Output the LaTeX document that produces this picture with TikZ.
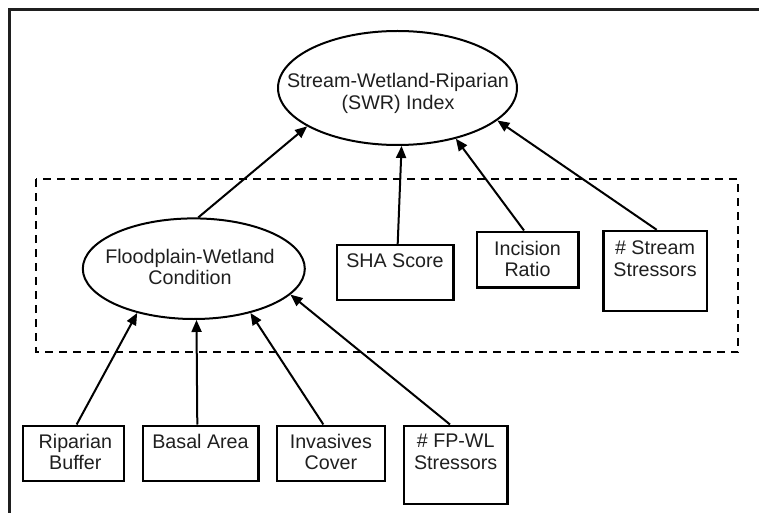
\documentclass[tikz,border=0pt]{standalone}
\usepackage{fontspec}
\setmainfont{Liberation Sans}
\usetikzlibrary{shapes.geometric,arrows.meta,calc}
\begin{document}
\begin{tikzpicture}[x=1pt,y=-1pt,
  txt/.style={font=\fontsize{19.7}{21.5}\selectfont, align=center, inner sep=0pt, anchor=north, text=black!88},
  ell/.style={ellipse, draw, line width=2pt, inner sep=0pt},
  box/.style={draw, line width=2.4pt, inner sep=0pt},
  arr/.style={line width=2pt, -{Triangle[length=12pt,width=10pt]}},
  frame/.style={line width=3pt, draw=black!88},
  group/.style={line width=2.3pt, dash pattern=on 8pt off 6pt}
]
\useasboundingbox (0,0) rectangle (759,513);
\clip (0,0) rectangle (759,513);
% outer frame (top and left)
\draw[frame] (770,9.5) -- (9.5,9.5) -- (9.5,530);
% dashed group
\draw[group] (36,179.3) rectangle (738.3,352.3);

% top index
\node[ell, minimum width=239pt, minimum height=114pt] (swr) at (397.5,88) {};
\node[txt] (swrt) at (398,73.1) {Stream-Wetland-Riparian\\(SWR) Index};

% floodplain condition
\node[ell, minimum width=222pt, minimum height=100.6pt] (fp) at (193.8,268.7) {};
\node[txt] (fpt) at (190,249) {Floodplain-Wetland\\Condition};

% boxes in group
\node[box, minimum width=116.6pt, minimum height=55pt] (sha) at (395,272.5) {};
\node[txt] (shat) at ([yshift=-10pt]sha.north) {SHA Score};
\node[box, minimum width=101.6pt, minimum height=55.6pt] (inc) at (527.5,259.5) {};
\node[txt] (inct) at ([yshift=-10.5pt]inc.north) {Incision\\Ratio};
\node[box, minimum width=103.4pt, minimum height=79.7pt] (str) at (655,270.85) {};
\node[txt] (strt) at ([yshift=-11pt]str.north) {\# Stream\\Stressors};

% bottom boxes
\node[box, minimum width=101.3pt, minimum height=55pt] (rip) at (73.35,453.2) {};
\node[txt] (ript) at ([yshift=-9.5pt,xshift=2pt]rip.north) {Riparian\\Buffer};
\node[box, minimum width=115.6pt, minimum height=55pt] (bas) at (200.5,453.2) {};
\node[txt] (bast) at ([yshift=-9.5pt]bas.north) {Basal Area};
\node[box, minimum width=108.3pt, minimum height=55pt] (inv) at (330.85,453.2) {};
\node[txt] (invt) at ([yshift=-9.5pt]inv.north) {Invasives\\Cover};
\node[box, minimum width=103.4pt, minimum height=78.3pt] (fpw) at (455.7,464.85) {};
\node[txt] (fpwt) at ([yshift=-9.5pt]fpw.north) {\# FP-WL\\Stressors};

% connectors
\draw[arr] (fp.85.4) -- (swr.203.2);
\draw[arr] ([xshift=2.7pt]sha.north) -- (swr.274.1);
\draw[arr] ([xshift=-3.5pt]inc.north) -- (swr.319.5);
\draw[arr] ([xshift=1.7pt]str.north) -- (swr.342.1);

\draw[arr] ([xshift=3.3pt]rip.north) -- (fp.218.3);
\draw[arr] ([xshift=-3.2pt]bas.north) -- (fp.273.9);
\draw[arr] ([xshift=-7.5pt]inv.north) -- (fp.322.4);
\draw[arr] ([xshift=-5.7pt]fpw.north) -- (fp.345.7);
\end{tikzpicture}
\end{document}
